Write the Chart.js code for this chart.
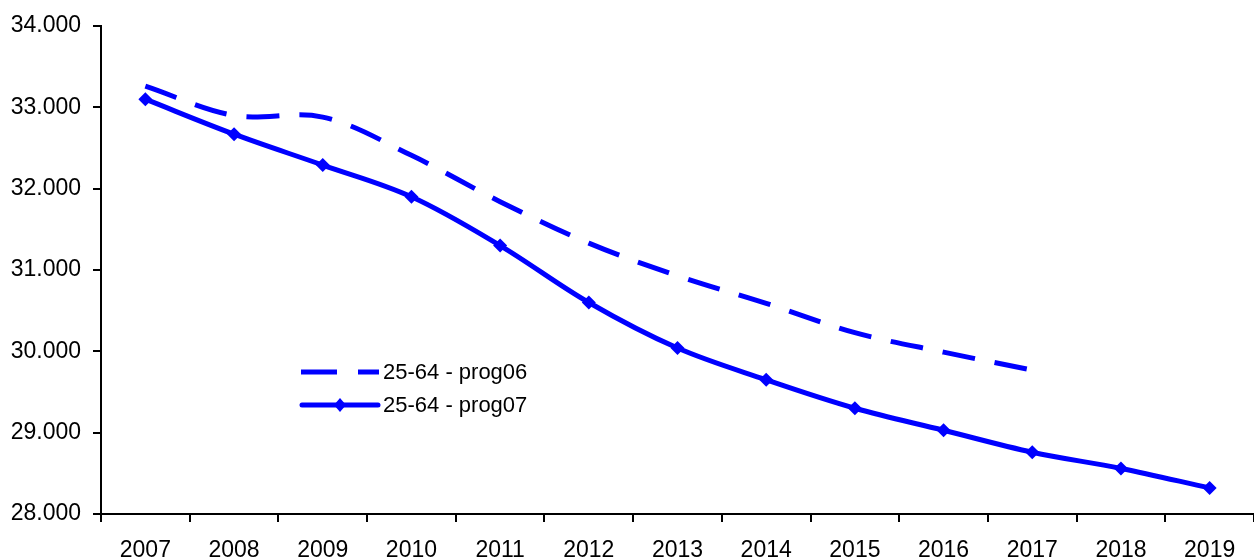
<!DOCTYPE html>
<html>
<head>
<meta charset="utf-8">
<script src="https://cdn.jsdelivr.net/npm/chart.js@4/dist/chart.umd.min.js"></script>
<style>
    html, body { margin: 0; padding: 0; background: #fff; }
    #wrap { width: 1254px; height: 558px; }
</style>
</head>
<body>
<div id="wrap"><canvas id="myChart" width="1254" height="558"></canvas></div>
<script>
let years = ['2007', '2008', '2009', '2010', '2011', '2012', '2013', '2014', '2015', '2016', '2017', '2018', '2019'];
let prog06 = [33260, 32900, 32880, 32410, 31840, 31330, 30930, 30590, 30230, 29990, 29770, null, null];
let prog07 = [33100, 32670, 32290, 31900, 31300, 30600, 30040, 29650, 29300, 29030, 28760, 28560, 28320];
let seriesNames = ['25-64 - prog06', '25-64 - prog07'];

const blue = '#0000ff';
const fontFamily = '"Liberation Sans", Arial, sans-serif';

// legend sits inside the plot, like the original
const innerLegend = {
    id: 'innerLegend',
    afterDraw(chart) {
        const c = chart.ctx;
        c.save();
        c.strokeStyle = blue;
        c.lineWidth = 5;
        // dashed sample
        c.setLineDash([36, 21]);
        c.beginPath();
        c.moveTo(301, 372);
        c.lineTo(379, 372);
        c.stroke();
        // solid sample with marker
        c.setLineDash([]);
        c.lineCap = 'round';
        c.beginPath();
        c.moveTo(302, 405);
        c.lineTo(378, 405);
        c.stroke();
        c.fillStyle = blue;
        c.beginPath();
        c.moveTo(340, 398);
        c.lineTo(346, 405);
        c.lineTo(340, 412);
        c.lineTo(334, 405);
        c.closePath();
        c.fill();
        c.fillStyle = '#000';
        c.font = '22px ' + fontFamily;
        c.textBaseline = 'middle';
        c.fillText(seriesNames[0], 383, 373);
        c.fillText(seriesNames[1], 383, 406);
        c.restore();
    }
};

let ctx = document.getElementById('myChart').getContext('2d');
let myChart = new Chart(ctx, {
    type: 'line',
    data: {
        labels: years,
        datasets: [{
            label: seriesNames[0],
            data: prog06,
            borderColor: blue,
            borderWidth: 5,
            borderDash: [33, 20],
            pointRadius: 0,
            tension: 0.35,
            spanGaps: false,
        }, {
            label: seriesNames[1],
            data: prog07,
            borderColor: blue,
            backgroundColor: blue,
            borderWidth: 5,
            pointStyle: 'rectRot',
            pointRadius: 7,
            pointBorderWidth: 0,
            tension: 0.35,
        }]
    },
    options: {
        responsive: false,
        animation: false,
        plugins: {
            legend: { display: false },
            tooltip: { enabled: false },
        },
        layout: {
            autoPadding: false,
            padding: { left: 0, right: 0, top: 26, bottom: 0 },
        },
        scales: {
            x: {
                offset: true,
                grid: {
                    offset: true,
                    drawOnChartArea: false,
                    color: '#000',
                    lineWidth: 2,
                    tickLength: 8,
                },
                border: { color: '#000', width: 2 },
                ticks: {
                    color: '#000',
                    font: { family: fontFamily, size: 23 },
                    maxRotation: 0,
                    autoSkip: false,
                    padding: 15,
                },
                afterFit: function (scale) {
                    scale.height = 44;
                    scale.paddingLeft = 0;
                    scale.paddingRight = 0;
                },
            },
            y: {
                min: 28000,
                max: 34000,
                grid: {
                    drawOnChartArea: false,
                    color: '#000',
                    lineWidth: 2,
                    tickLength: 8,
                },
                border: { color: '#000', width: 2 },
                ticks: {
                    stepSize: 1000,
                    color: '#000',
                    font: { family: fontFamily, size: 23 },
                    padding: 12,
                    callback: function (value) {
                        return String(value).replace(/\B(?=(\d{3})+(?!\d))/g, '.');
                    },
                },
                afterFit: function (scale) { scale.width = 101; },
            },
        },
    },
    plugins: [innerLegend],
});
</script>
</body>
</html>
